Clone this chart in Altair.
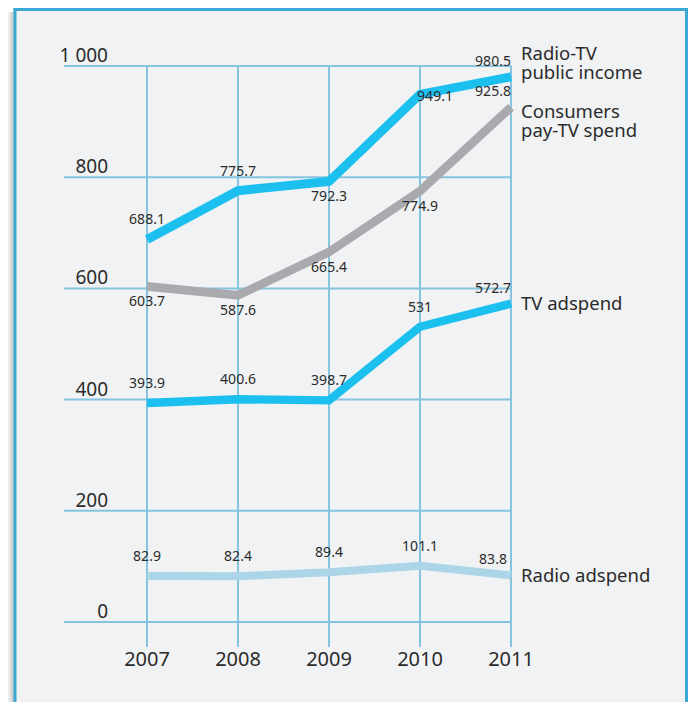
import altair as alt
import pandas as pd

years = [2007, 2008, 2009, 2010, 2011]
series_names = ["Radio-TV public income", "Consumers pay-TV spend", "TV adspend", "Radio adspend"]
radio_tv_income = [688.1, 775.7, 792.3, 949.1, 980.5]
pay_tv_spend = [603.7, 587.6, 665.4, 774.9, 925.8]
tv_adspend = [393.9, 400.6, 398.7, 531.0, 572.7]
radio_adspend = [82.9, 82.4, 89.4, 101.1, 83.8]
value_text = {
    "Radio-TV public income": ["688.1", "775.7", "792.3", "949.1", "980.5"],
    "Consumers pay-TV spend": ["603.7", "587.6", "665.4", "774.9", "925.8"],
    "TV adspend": ["393.9", "400.6", "398.7", "531", "572.7"],
    "Radio adspend": ["82.9", "82.4", "89.4", "101.1", "83.8"],
}
label_place = {
    "Radio-TV public income": ["above", "above", "below", "right", "aboveleft"],
    "Consumers pay-TV spend": ["below", "below", "below", "below", "aboveleft"],
    "TV adspend": ["above", "above", "above", "above", "aboveleft"],
    "Radio adspend": ["above", "above", "above", "above", "aboveleft"],
}
series_labels = ["Radio-TV\npublic income", "Consumers\npay-TV spend", "TV adspend", "Radio adspend"]
y_ticks = [0, 200, 400, 600, 800, 1000]
y_tick_labels = ["0", "200", "400", "600", "800", "1 000"]

values = [radio_tv_income, pay_tv_spend, tv_adspend, radio_adspend]
rows = []
for s, vals in zip(series_names, values):
    for i, (yr, v) in enumerate(zip(years, vals)):
        rows.append({"series": s, "year": yr, "value": v,
                     "txt": value_text[s][i], "place": label_place[s][i]})
df = pd.DataFrame(rows)

last = pd.DataFrame([{"series": s, "year": years[-1], "value": vals[-1], "lab": lab}
                     for s, vals, lab in zip(series_names, values, series_labels)])
ydf = pd.DataFrame({"v": y_ticks, "lab": y_tick_labels})
xdf = pd.DataFrame({"year": years, "lab": [str(y) for y in years]})

FONT = "Noto Sans"
TXT = "#2b2b2b"
GRID = "#84c4de"
FRAME = "#3aa8d2"
W, H = 673, 694

xs = alt.Scale(domain=[2007, 2011], range=[132, 496])
ys = alt.Scale(domain=[0, 1000], range=[614, 58])
X = alt.X("year:Q", scale=xs, axis=None)
Y = alt.Y("value:Q", scale=ys, axis=None)

one = pd.DataFrame({"k": [0]})
shadow = alt.Chart(one).mark_rect(
    color={"gradient": "linear", "x1": 0, "x2": 1, "y1": 0, "y2": 0,
           "stops": [{"offset": 0, "color": "#f4f4f4"},
                     {"offset": 1, "color": "#c4c4c4"}]}).encode(
    x=alt.value(-7), x2=alt.value(-1), y=alt.value(4), y2=alt.value(H))
frame_top = alt.Chart(one).mark_rule(color=FRAME, strokeWidth=3).encode(
    x=alt.value(-1.5), x2=alt.value(W), y=alt.value(1.5))
frame_left = alt.Chart(one).mark_rule(color=FRAME, strokeWidth=3).encode(
    x=alt.value(0), y=alt.value(0), y2=alt.value(H))
frame_right = alt.Chart(one).mark_rule(color=FRAME, strokeWidth=3).encode(
    x=alt.value(W - 1.5), y=alt.value(0), y2=alt.value(H))

hgrid = alt.Chart(ydf).mark_rule(color=GRID, strokeWidth=2).encode(
    y=alt.Y("v:Q", scale=ys, axis=None), x=alt.value(49), x2=alt.value(496))
vgrid = alt.Chart(xdf).mark_rule(color=GRID, strokeWidth=2).encode(
    x=alt.X("year:Q", scale=xs, axis=None), y=alt.value(58), y2=alt.value(639))

ylabels = alt.Chart(ydf).mark_text(font=FONT, fontSize=19, color=TXT, align="right",
                                   baseline="alphabetic", dy=-4).encode(
    y=alt.Y("v:Q", scale=ys, axis=None), x=alt.value(93), text="lab:N")
xlabels = alt.Chart(xdf).mark_text(font=FONT, fontSize=20, color=TXT, align="center",
                                   baseline="middle").encode(
    x=alt.X("year:Q", scale=xs, axis=None), y=alt.value(652), text="lab:N")

lines = alt.Chart(df).mark_line(strokeCap="butt", strokeJoin="miter").encode(
    x=X, y=Y, detail="series:N",
    color=alt.Color("series:N", scale=alt.Scale(domain=series_names,
                    range=["#1bc0ef", "#a8aaad", "#1bc0ef", "#acd6e8"]), legend=None),
    strokeWidth=alt.StrokeWidth("series:N", scale=alt.Scale(domain=series_names,
                    range=[9, 8, 9, 10]), legend=None),
)

offsets = {"above": (0, -19), "below": (0, 16), "right": (15, 3), "aboveleft": (-18, -15)}
label_layers = []
for p, (dx, dy) in offsets.items():
    label_layers.append(
        alt.Chart(df).transform_filter(alt.datum.place == p).mark_text(
            font=FONT, fontSize=14, color=TXT, dx=dx, dy=dy, baseline="middle").encode(
            x=X, y=Y, text="txt:N"))

sdy = {"Radio-TV public income": -23, "Consumers pay-TV spend": 5,
       "TV adspend": 0, "Radio adspend": 1}
series_layers = []
for s, d in sdy.items():
    series_layers.append(
        alt.Chart(last).transform_filter(alt.datum.series == s).mark_text(
            font=FONT, fontSize=18.5, color=TXT, align="left", baseline="middle",
            dx=10, dy=d, lineBreak="\n", lineHeight=19).encode(
            x=X, y=Y, text="lab:N"))

chart = alt.layer(shadow, hgrid, vgrid, ylabels, xlabels, lines, *label_layers,
                  *series_layers, frame_top, frame_left, frame_right).properties(
    width=W, height=H,
    padding={"left": 7, "top": 0, "right": 0, "bottom": 0},
    autosize=alt.AutoSizeParams(type="none"),
    background="#ffffff",
).configure_view(fill="#f1f2f4", strokeWidth=0)

chart.save("out.html", embed_options={"renderer": "svg", "actions": False})
